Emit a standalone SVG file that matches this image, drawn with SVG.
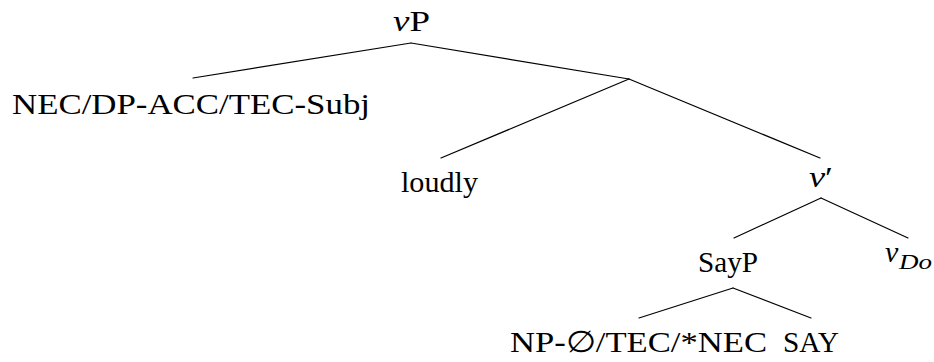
<svg xmlns="http://www.w3.org/2000/svg" width="934" height="362" viewBox="0 0 934 362">
<style>
text{font-family:"Liberation Serif","DejaVu Serif",serif;font-size:30px;fill:#000}
.i{font-style:italic}
.e{stroke:#000;stroke-width:1.2;fill:none;stroke-linecap:round}
</style>
<rect width="934" height="362" fill="#fff"/>
<g id="edges">
<line class="e" x1="411" y1="43" x2="193" y2="78"/>
<line class="e" x1="411" y1="43" x2="629" y2="79"/>
<line class="e" x1="629" y1="79" x2="441" y2="158"/>
<line class="e" x1="629" y1="79" x2="820" y2="158"/>
<line class="e" x1="821" y1="198" x2="734" y2="238"/>
<line class="e" x1="821" y1="198" x2="908" y2="238"/>
<line class="e" x1="733" y1="288" x2="639" y2="318"/>
<line class="e" x1="733" y1="288" x2="811" y2="318"/>
</g>
<g id="vP"><text x="393" y="31" textLength="37" lengthAdjust="spacingAndGlyphs"><tspan class="i">v</tspan>P</text></g>
<g id="nec"><text x="12" y="114" textLength="358" lengthAdjust="spacingAndGlyphs">NEC/DP-ACC/TEC-Subj</text></g>
<g id="loudly"><text x="401" y="192" textLength="77" lengthAdjust="spacingAndGlyphs">loudly</text></g>
<g id="vbar"><text x="809" y="187" textLength="24" lengthAdjust="spacingAndGlyphs"><tspan class="i">v</tspan>′</text></g>
<g id="SayP"><text x="698" y="272" textLength="60" lengthAdjust="spacingAndGlyphs">SayP</text></g>
<g id="vDo"><text x="885" y="262" class="i">v</text><text x="899" y="269" class="i" style="font-size:21px" textLength="33" lengthAdjust="spacingAndGlyphs">Do</text></g>
<g id="np"><text x="510" y="352" textLength="257" lengthAdjust="spacingAndGlyphs">NP-∅/TEC/*NEC</text></g>
<g id="SAY"><text x="783" y="352" textLength="56" lengthAdjust="spacingAndGlyphs">SAY</text></g>
</svg>
